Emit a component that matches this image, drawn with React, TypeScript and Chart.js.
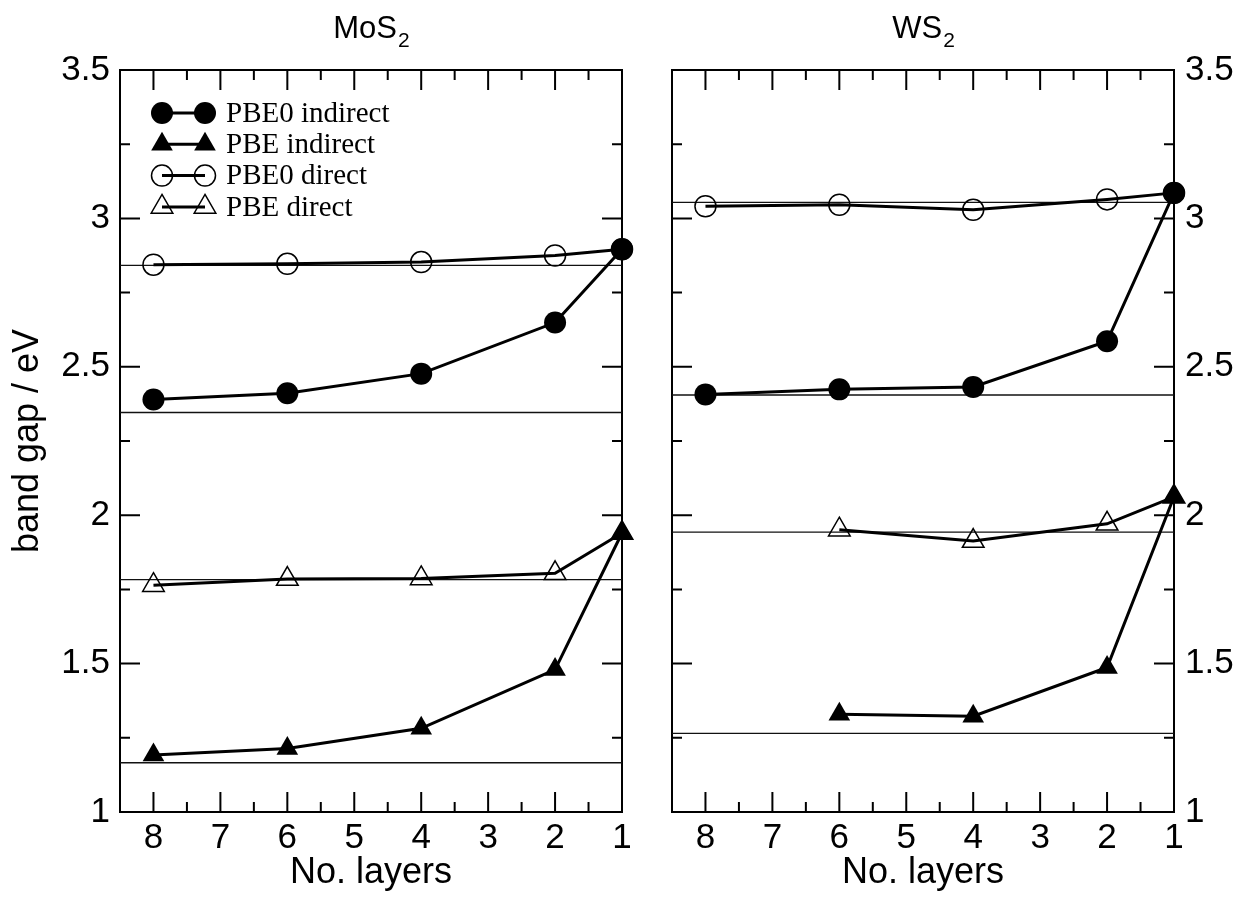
import React, { useEffect, useRef } from 'react';
import { Chart, registerables } from 'chart.js';

Chart.register(...registerables);

// ---------------- data ----------------
const layers = [8, 6, 4, 2, 1];

const mos2PBE0Indirect = [2.39, 2.411, 2.477, 2.649, 2.896];
const mos2PBEIndirect = [1.192, 1.214, 1.282, 1.48, 1.94];
const mos2PBE0Direct = [2.844, 2.847, 2.853, 2.875, 2.896];
const mos2PBEDirect = [1.764, 1.785, 1.787, 1.804, 1.94];
const mos2BulkLines = [2.842, 2.346, 1.783, 1.166];

const ws2PBE0Indirect = [2.407, 2.424, 2.432, 2.586, 3.086];
const ws2PBEIndirect = [null, 1.329, 1.323, 1.487, 2.062];
const ws2PBE0Direct = [3.041, 3.046, 3.029, 3.064, 3.086];
const ws2PBEDirect = [null, 1.951, 1.913, 1.971, 2.062];
const ws2BulkLines = [3.054, 2.405, 1.943, 1.265];

const seriesLabels = ['PBE0 indirect', 'PBE indirect', 'PBE0 direct', 'PBE direct'];

const xRange = [8.5, 1];
const xMajorTicks = [8, 7, 6, 5, 4, 3, 2, 1];
const xMinorTicks = [7.5, 6.5, 5.5, 4.5, 3.5, 2.5, 1.5];
const yMajorTicks = [1, 1.5, 2, 2.5, 3, 3.5];
const yMinorTicks = [1.25, 1.75, 2.25, 2.75, 3.25];

const xTitle = 'No. layers';
const yTitle = 'band gap / eV';

// ---------------- styles ----------------
const SANS = '"Liberation Sans", Arial, Helvetica, sans-serif';
const SERIF = '"Liberation Serif", "Times New Roman", serif';

type Style = { shape: 'circle' | 'triangle'; filled: boolean; radius: number };
const seriesStyles: Style[] = [
  { shape: 'circle', filled: true, radius: 11 },
  { shape: 'triangle', filled: true, radius: 12.5 },
  { shape: 'circle', filled: false, radius: 10.5 },
  { shape: 'triangle', filled: false, radius: 12.5 },
];

function drawMarker(ctx: CanvasRenderingContext2D, s: Style, x: number, y: number) {
  ctx.beginPath();
  if (s.shape === 'circle') {
    ctx.arc(x, y, s.radius, 0, Math.PI * 2);
  } else {
    const r = s.radius;
    for (let k = 0; k < 3; k++) {
      const ang = (k * 2 * Math.PI) / 3;
      const px = x + Math.sin(ang) * r;
      const py = y - Math.cos(ang) * r;
      if (k === 0) ctx.moveTo(px, py);
      else ctx.lineTo(px, py);
    }
    ctx.closePath();
  }
  if (s.filled) {
    ctx.fillStyle = '#000';
    ctx.fill();
  } else {
    ctx.lineWidth = 1.5;
    ctx.strokeStyle = '#000';
    ctx.stroke();
  }
}

function decoPlugin(title: string, sub: string, showLegend: boolean) {
  return {
    id: 'panelDeco',
    beforeDatasetsDraw(chart: any) {
      const { ctx, chartArea: a, scales } = chart;
      const xs = scales.x;
      const ys = scales.y;
      ctx.save();
      ctx.strokeStyle = '#000';
      ctx.lineWidth = 2;
      ctx.strokeRect(a.left, a.top, a.right - a.left, a.bottom - a.top);
      ctx.beginPath();
      const xt = (vals: number[], len: number) => {
        vals.forEach((v) => {
          const p = xs.getPixelForValue(v);
          ctx.moveTo(p, a.bottom);
          ctx.lineTo(p, a.bottom - len);
          ctx.moveTo(p, a.top);
          ctx.lineTo(p, a.top + len);
        });
      };
      const yt = (vals: number[], len: number) => {
        vals.forEach((v) => {
          const p = ys.getPixelForValue(v);
          ctx.moveTo(a.left, p);
          ctx.lineTo(a.left + len, p);
          ctx.moveTo(a.right, p);
          ctx.lineTo(a.right - len, p);
        });
      };
      xt(xMajorTicks, 20);
      xt(xMinorTicks, 10);
      yt(yMajorTicks, 20);
      yt(yMinorTicks, 10);
      ctx.stroke();
      ctx.restore();
    },
    afterDraw(chart: any) {
      const { ctx, chartArea: a } = chart;
      ctx.save();
      ctx.fillStyle = '#000';
      ctx.textBaseline = 'alphabetic';
      ctx.textAlign = 'left';
      ctx.font = `31px ${SANS}`;
      const w1 = ctx.measureText(title).width;
      ctx.font = `21px ${SANS}`;
      const w2 = ctx.measureText(sub).width;
      const start = (a.left + a.right) / 2 - (w1 + w2) / 2;
      ctx.font = `31px ${SANS}`;
      ctx.fillText(title, start, 38);
      ctx.font = `21px ${SANS}`;
      ctx.fillText(sub, start + w1 + 1, 47);

      if (showLegend) {
        const x1 = a.left + 42;
        const x2 = a.left + 85;
        const tx = a.left + 106;
        seriesLabels.forEach((lab, i) => {
          const yy = a.top + 43 + i * 31.3;
          ctx.beginPath();
          ctx.lineWidth = 3;
          ctx.strokeStyle = '#000';
          ctx.moveTo(x1, yy);
          ctx.lineTo(x2, yy);
          ctx.stroke();
          drawMarker(ctx, seriesStyles[i], x1, yy);
          drawMarker(ctx, seriesStyles[i], x2, yy);
          ctx.fillStyle = '#000';
          ctx.font = `29px ${SERIF}`;
          ctx.textBaseline = 'middle';
          ctx.fillText(lab, tx, yy + 1);
        });
      }
      ctx.restore();
    },
  };
}

function buildDatasets(series: (number | null)[][], refs: number[]) {
  const ds: any[] = series.map((vals, i) => {
    const s = seriesStyles[i];
    return {
      label: seriesLabels[i],
      data: layers.map((x, k) => ({ x, y: vals[k] })),
      borderColor: '#000',
      borderWidth: 3,
      pointStyle: s.shape,
      pointRadius: s.radius,
      pointBackgroundColor: s.filled ? '#000' : 'rgba(0,0,0,0)',
      pointBorderColor: '#000',
      pointBorderWidth: s.filled ? 0 : 1.5,
      clip: false,
      tension: 0,
    };
  });
  refs.forEach((v) => {
    ds.push({
      label: 'bulk',
      data: xRange.map((x) => ({ x, y: v })),
      borderColor: '#111',
      borderWidth: 1.3,
      pointRadius: 0,
      clip: false,
    });
  });
  return ds;
}

function makeOptions(side: 'left' | 'right') {
  const tickFont = { family: SANS, size: 35 };
  const titleFont = { family: SANS, size: 36 };
  return {
    responsive: false,
    animation: false,
    events: [],
    layout: {
      padding:
        side === 'left'
          ? { left: 0, right: 25, top: 70, bottom: 0 }
          : { left: 25, right: 0, top: 70, bottom: 0 },
    },
    plugins: { legend: { display: false }, tooltip: { enabled: false }, title: { display: false } },
    scales: {
      x: {
        type: 'linear',
        min: xRange[1],
        max: xRange[0],
        reverse: true,
        afterBuildTicks: (s: any) => {
          s.ticks = xMajorTicks.map((v) => ({ value: v }));
        },
        afterFit: (s: any) => {
          s.height = 86;
        },
        grid: { display: false, drawTicks: false },
        border: { display: false },
        ticks: {
          font: tickFont,
          color: '#000',
          padding: 5,
          maxRotation: 0,
          autoSkip: false,
          callback: (v: any) => String(v),
        },
        title: {
          display: true,
          text: xTitle,
          font: titleFont,
          color: '#000',
          padding: { top: 0, bottom: 3 },
        },
      },
      y: {
        type: 'linear',
        position: side,
        min: 1,
        max: 3.5,
        afterBuildTicks: (s: any) => {
          s.ticks = yMajorTicks.map((v) => ({ value: v }));
        },
        afterFit: (s: any) => {
          s.width = side === 'left' ? 120 : 81;
        },
        grid: { display: false, drawTicks: false },
        border: { display: false },
        ticks: {
          font: tickFont,
          color: '#000',
          padding: side === 'left' ? 10 : 11,
          callback: (v: any) => String(v),
        },
        title: {
          display: side === 'left',
          text: yTitle,
          font: titleFont,
          color: '#000',
          padding: { top: 6, bottom: 0 },
        },
      },
    },
  };
}

export default function App() {
  const leftRef = useRef<HTMLCanvasElement>(null);
  const rightRef = useRef<HTMLCanvasElement>(null);

  useEffect(() => {
    const c1 = new Chart(leftRef.current as HTMLCanvasElement, {
      type: 'line',
      data: {
        datasets: buildDatasets(
          [mos2PBE0Indirect, mos2PBEIndirect, mos2PBE0Direct, mos2PBEDirect],
          mos2BulkLines
        ),
      },
      options: makeOptions('left') as any,
      plugins: [decoPlugin('MoS', '2', true)],
    });
    const c2 = new Chart(rightRef.current as HTMLCanvasElement, {
      type: 'line',
      data: {
        datasets: buildDatasets(
          [ws2PBE0Indirect, ws2PBEIndirect, ws2PBE0Direct, ws2PBEDirect],
          ws2BulkLines
        ),
      },
      options: makeOptions('right') as any,
      plugins: [decoPlugin('WS', '2', false)],
    });
    return () => {
      c1.destroy();
      c2.destroy();
    };
  }, []);

  return (
    <div
      style={{
        position: 'fixed',
        left: 0,
        top: 0,
        width: 1255,
        height: 898,
        background: '#fff',
        overflow: 'hidden',
      }}
    >
      <canvas
        ref={leftRef}
        width={647}
        height={898}
        style={{ position: 'absolute', left: 0, top: 0, width: 647, height: 898 }}
      />
      <canvas
        ref={rightRef}
        width={608}
        height={898}
        style={{ position: 'absolute', left: 647, top: 0, width: 608, height: 898 }}
      />
    </div>
  );
}
